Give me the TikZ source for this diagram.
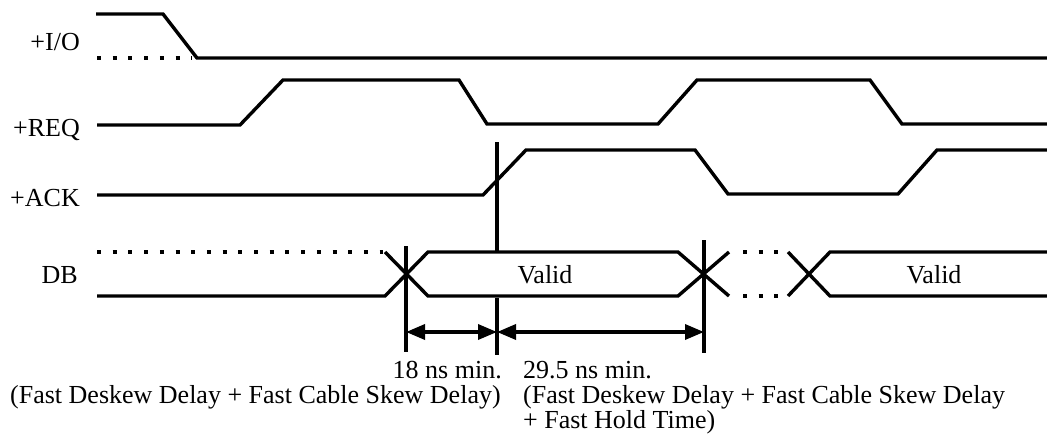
\documentclass[tikz,border=0pt]{standalone}
\usepackage{fontspec}
\setmainfont{Liberation Serif}
\usetikzlibrary{arrows.meta}
\begin{document}
\begin{tikzpicture}[x=1pt,y=-1pt,
  sig/.style={line width=3.4pt, line join=miter},
  dotsig/.style={line width=4pt, dash pattern=on 4pt off 11.7pt},
  vbar/.style={line width=3.6pt},
  dimarrow/.style={line width=3.4pt, {Triangle[length=19pt,width=15pt]}-{Triangle[length=19pt,width=15pt]}},
  lbl/.style={font=\fontsize{26}{25}\selectfont, inner sep=0pt, anchor=base east},
  txt/.style={font=\fontsize{26}{25}\selectfont, inner sep=0pt}]
\useasboundingbox (0,0) rectangle (1047,437);
% labels
\node[lbl] (io)  at (80,50)  {+I/O};
\node[lbl] (req) at (80,136) {+REQ};
\node[lbl] (ack) at (80,206) {+ACK};
\node[lbl] (db)  at (78,283) {DB};
% +I/O
\draw[sig] (96,14) -- (163,14) -- (197,58) -- (1047,58);
\draw[dotsig] (97,58) -- (192,58);
% +REQ
\draw[sig] (97,125) -- (240,125) -- (283,80) -- (459,80) -- (487,124) -- (658,124)
  -- (697,80) -- (870,80) -- (902,124) -- (1047,124);
% +ACK
\draw[sig] (97,195) -- (483,195) -- (526,150) -- (695,150) -- (728,194) -- (898,194)
  -- (937,150) -- (1047,150);
% DB
\draw[dotsig] (97,252) -- (383,252);
\draw[sig] (97,296) -- (385,296) -- (428,252) -- (678,252) -- (729,296);
\draw[sig] (385,252) -- (428,296) -- (678,296) -- (729,252);
\draw[dotsig] (743,252) -- (788,252);
\draw[dotsig] (743,296) -- (788,296);
\draw[sig] (788,252) -- (830,296) -- (1047,296);
\draw[sig] (788,296) -- (830,252) -- (1047,252);
\node[txt, anchor=base] (v1) at (545,283) {Valid};
\node[txt, anchor=base] (v2) at (934,283) {Valid};
% timing marks
\coordinate (m1t) at (406,246);
\coordinate (m1b) at (406,352);
\coordinate (m2t) at (497,142);
\coordinate (m2m) at (497,251);
\coordinate (m2n) at (497,298);
\coordinate (m2b) at (497,355);
\coordinate (m3t) at (704,240);
\coordinate (m3b) at (704,353);
\draw[vbar] (m1t) -- (m1b);
\draw[vbar] (m2t) -- (m2m);
\draw[vbar] (m2n) -- (m2b);
\draw[vbar] (m3t) -- (m3b);
\coordinate (a1) at (406,332);
\coordinate (a2) at (497,332);
\coordinate (a3) at (704,332);
\draw[dimarrow] (a1) -- (a2);
\draw[dimarrow] (a2) -- (a3);
% texts
\node[txt, anchor=base east] (t18) at (502,378) {18 ns min.};
\node[txt, anchor=base west] (t29) at (523,378) {29.5 ns min.};
\node[txt, anchor=base west] (c1) at (10,403) {(Fast Deskew Delay + Fast Cable Skew Delay)};
\node[txt, anchor=base west] (c2) at (523,403) {(Fast Deskew Delay + Fast Cable Skew Delay};
\node[txt, anchor=base west] (c3) at (523,428) {+ Fast Hold Time)};
\end{tikzpicture}
\end{document}
